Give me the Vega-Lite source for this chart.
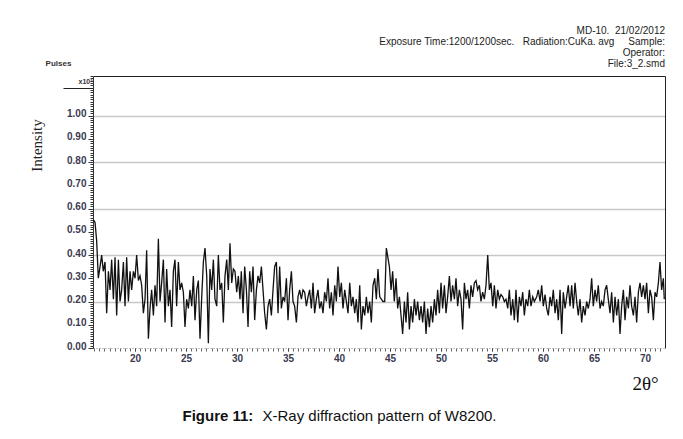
{
  "$schema": "https://vega.github.io/schema/vega-lite/v6.json",
  "width": 572,
  "height": 272,
  "autosize": {"type": "none"},
  "padding": {"left": 93, "top": 76, "right": 18, "bottom": 91},
  "background": "white",
  "config": {
    "view": {"stroke": null},
    "axis": {"labelFont": "Liberation Sans", "titleFont": "Liberation Sans", "labelFlush": false, "labelOverlap": false}
  },
  "title": {
    "text": ["MD-10.\u00a0\u00a021/02/2012", "Exposure Time:1200/1200sec.\u00a0\u00a0\u00a0Radiation:CuKa. avg\u00a0\u00a0\u00a0\u00a0\u00a0Sample:", "Operator:", "File:3_2.smd"],
    "anchor": "end",
    "frame": "group",
    "orient": "top",
    "offset": -10,
    "font": "Liberation Sans",
    "fontSize": 10,
    "fontWeight": "normal",
    "color": "#222222",
    "lineHeight": 11
  },
  "data": {"values": [
    {"theta":15.95,"intensity":0.55},{"theta":16.08,"intensity":0.54},{"theta":16.24,"intensity":0.46},{"theta":16.40,"intensity":0.30},{"theta":16.57,"intensity":0.35},{"theta":16.73,"intensity":0.40},{"theta":16.89,"intensity":0.33},{"theta":17.06,"intensity":0.37},{"theta":17.22,"intensity":0.15},{"theta":17.39,"intensity":0.33},{"theta":17.55,"intensity":0.25},{"theta":17.71,"intensity":0.38},{"theta":17.88,"intensity":0.21},{"theta":18.04,"intensity":0.39},{"theta":18.20,"intensity":0.14},{"theta":18.37,"intensity":0.38},{"theta":18.53,"intensity":0.20},{"theta":18.69,"intensity":0.25},{"theta":18.86,"intensity":0.37},{"theta":19.02,"intensity":0.18},{"theta":19.18,"intensity":0.39},{"theta":19.35,"intensity":0.20},{"theta":19.51,"intensity":0.33},{"theta":19.67,"intensity":0.25},{"theta":19.84,"intensity":0.33},{"theta":20.00,"intensity":0.30},{"theta":20.16,"intensity":0.40},{"theta":20.33,"intensity":0.29},{"theta":20.49,"intensity":0.31},{"theta":20.65,"intensity":0.27},{"theta":20.82,"intensity":0.15},{"theta":20.98,"intensity":0.21},{"theta":21.14,"intensity":0.42},{"theta":21.31,"intensity":0.04},{"theta":21.47,"intensity":0.17},{"theta":21.63,"intensity":0.25},{"theta":21.80,"intensity":0.14},{"theta":21.96,"intensity":0.27},{"theta":22.12,"intensity":0.18},{"theta":22.29,"intensity":0.47},{"theta":22.45,"intensity":0.20},{"theta":22.61,"intensity":0.28},{"theta":22.78,"intensity":0.38},{"theta":22.94,"intensity":0.11},{"theta":23.10,"intensity":0.34},{"theta":23.27,"intensity":0.18},{"theta":23.43,"intensity":0.25},{"theta":23.59,"intensity":0.09},{"theta":23.76,"intensity":0.33},{"theta":23.92,"intensity":0.38},{"theta":24.08,"intensity":0.18},{"theta":24.25,"intensity":0.37},{"theta":24.41,"intensity":0.25},{"theta":24.57,"intensity":0.28},{"theta":24.74,"intensity":0.24},{"theta":24.90,"intensity":0.09},{"theta":25.06,"intensity":0.21},{"theta":25.23,"intensity":0.17},{"theta":25.39,"intensity":0.25},{"theta":25.56,"intensity":0.18},{"theta":25.72,"intensity":0.31},{"theta":25.88,"intensity":0.12},{"theta":26.05,"intensity":0.25},{"theta":26.21,"intensity":0.29},{"theta":26.37,"intensity":0.04},{"theta":26.54,"intensity":0.22},{"theta":26.70,"intensity":0.37},{"theta":26.86,"intensity":0.43},{"theta":27.03,"intensity":0.31},{"theta":27.19,"intensity":0.02},{"theta":27.35,"intensity":0.34},{"theta":27.52,"intensity":0.25},{"theta":27.68,"intensity":0.38},{"theta":27.84,"intensity":0.21},{"theta":28.01,"intensity":0.18},{"theta":28.17,"intensity":0.40},{"theta":28.33,"intensity":0.25},{"theta":28.50,"intensity":0.28},{"theta":28.66,"intensity":0.11},{"theta":28.82,"intensity":0.31},{"theta":28.99,"intensity":0.38},{"theta":29.15,"intensity":0.25},{"theta":29.31,"intensity":0.45},{"theta":29.48,"intensity":0.28},{"theta":29.64,"intensity":0.34},{"theta":29.80,"intensity":0.33},{"theta":29.97,"intensity":0.24},{"theta":30.13,"intensity":0.31},{"theta":30.29,"intensity":0.21},
    {"theta":30.42,"intensity":0.33},{"theta":30.59,"intensity":0.15},{"theta":30.75,"intensity":0.35},{"theta":30.92,"intensity":0.25},{"theta":31.08,"intensity":0.09},{"theta":31.24,"intensity":0.33},{"theta":31.41,"intensity":0.24},{"theta":31.57,"intensity":0.35},{"theta":31.73,"intensity":0.12},{"theta":31.90,"intensity":0.25},{"theta":32.06,"intensity":0.31},{"theta":32.22,"intensity":0.28},{"theta":32.39,"intensity":0.35},{"theta":32.55,"intensity":0.25},{"theta":32.71,"intensity":0.15},{"theta":32.88,"intensity":0.08},{"theta":33.04,"intensity":0.18},{"theta":33.20,"intensity":0.21},{"theta":33.37,"intensity":0.14},{"theta":33.53,"intensity":0.25},{"theta":33.69,"intensity":0.35},{"theta":33.86,"intensity":0.37},{"theta":34.02,"intensity":0.15},{"theta":34.18,"intensity":0.35},{"theta":34.35,"intensity":0.17},{"theta":34.51,"intensity":0.22},{"theta":34.67,"intensity":0.20},{"theta":34.84,"intensity":0.30},{"theta":35.00,"intensity":0.12},{"theta":35.16,"intensity":0.25},{"theta":35.33,"intensity":0.33},{"theta":35.49,"intensity":0.20},{"theta":35.65,"intensity":0.18},{"theta":35.82,"intensity":0.11},{"theta":35.98,"intensity":0.22},{"theta":36.14,"intensity":0.25},{"theta":36.31,"intensity":0.21},{"theta":36.47,"intensity":0.25},{"theta":36.63,"intensity":0.24},{"theta":36.80,"intensity":0.18},{"theta":36.96,"intensity":0.22},{"theta":37.12,"intensity":0.25},{"theta":37.29,"intensity":0.17},{"theta":37.45,"intensity":0.28},{"theta":37.61,"intensity":0.15},{"theta":37.78,"intensity":0.21},{"theta":37.94,"intensity":0.25},{"theta":38.10,"intensity":0.17},{"theta":38.27,"intensity":0.20},{"theta":38.43,"intensity":0.15},{"theta":38.59,"intensity":0.24},{"theta":38.76,"intensity":0.20},{"theta":38.92,"intensity":0.30},{"theta":39.08,"intensity":0.17},{"theta":39.25,"intensity":0.24},{"theta":39.41,"intensity":0.14},{"theta":39.58,"intensity":0.27},{"theta":39.74,"intensity":0.20},{"theta":39.90,"intensity":0.35},{"theta":40.07,"intensity":0.22},{"theta":40.23,"intensity":0.28},{"theta":40.39,"intensity":0.17},{"theta":40.56,"intensity":0.25},{"theta":40.72,"intensity":0.20},{"theta":40.88,"intensity":0.15},{"theta":41.05,"intensity":0.28},{"theta":41.21,"intensity":0.18},{"theta":41.37,"intensity":0.22},{"theta":41.54,"intensity":0.15},{"theta":41.70,"intensity":0.21},{"theta":41.86,"intensity":0.11},{"theta":42.03,"intensity":0.27},{"theta":42.19,"intensity":0.08},{"theta":42.35,"intensity":0.18},{"theta":42.52,"intensity":0.14},{"theta":42.68,"intensity":0.22},{"theta":42.84,"intensity":0.15},{"theta":43.01,"intensity":0.20},{"theta":43.17,"intensity":0.11},{"theta":43.33,"intensity":0.27},{"theta":43.50,"intensity":0.30},{"theta":43.66,"intensity":0.21},{"theta":43.82,"intensity":0.34},{"theta":43.99,"intensity":0.22},{"theta":44.15,"intensity":0.21},{"theta":44.31,"intensity":0.20},{"theta":44.48,"intensity":0.20},{"theta":44.64,"intensity":0.43},
    {"theta":44.94,"intensity":0.35},{"theta":45.10,"intensity":0.25},{"theta":45.26,"intensity":0.33},{"theta":45.42,"intensity":0.20},{"theta":45.59,"intensity":0.30},{"theta":45.75,"intensity":0.17},{"theta":45.92,"intensity":0.22},{"theta":46.08,"intensity":0.14},{"theta":46.24,"intensity":0.06},{"theta":46.41,"intensity":0.20},{"theta":46.57,"intensity":0.11},{"theta":46.73,"intensity":0.24},{"theta":46.90,"intensity":0.08},{"theta":47.06,"intensity":0.18},{"theta":47.22,"intensity":0.11},{"theta":47.39,"intensity":0.21},{"theta":47.55,"intensity":0.14},{"theta":47.71,"intensity":0.20},{"theta":47.88,"intensity":0.12},{"theta":48.04,"intensity":0.18},{"theta":48.20,"intensity":0.11},{"theta":48.37,"intensity":0.20},{"theta":48.53,"intensity":0.06},{"theta":48.69,"intensity":0.17},{"theta":48.86,"intensity":0.09},{"theta":49.02,"intensity":0.18},{"theta":49.18,"intensity":0.11},{"theta":49.35,"intensity":0.21},{"theta":49.51,"intensity":0.14},{"theta":49.67,"intensity":0.25},{"theta":49.84,"intensity":0.15},{"theta":50.00,"intensity":0.28},{"theta":50.16,"intensity":0.17},{"theta":50.33,"intensity":0.27},{"theta":50.49,"intensity":0.15},{"theta":50.65,"intensity":0.22},{"theta":50.82,"intensity":0.31},{"theta":50.98,"intensity":0.20},{"theta":51.14,"intensity":0.27},{"theta":51.31,"intensity":0.21},{"theta":51.47,"intensity":0.30},{"theta":51.63,"intensity":0.18},{"theta":51.80,"intensity":0.25},{"theta":51.96,"intensity":0.21},{"theta":52.12,"intensity":0.08},{"theta":52.29,"intensity":0.28},{"theta":52.45,"intensity":0.21},{"theta":52.61,"intensity":0.25},{"theta":52.78,"intensity":0.17},{"theta":52.94,"intensity":0.27},{"theta":53.10,"intensity":0.22},{"theta":53.27,"intensity":0.28},{"theta":53.43,"intensity":0.29},{"theta":53.59,"intensity":0.25},{"theta":53.76,"intensity":0.27},{"theta":53.92,"intensity":0.20},{"theta":54.08,"intensity":0.24},{"theta":54.25,"intensity":0.21},{"theta":54.41,"intensity":0.27},{"theta":54.58,"intensity":0.40},{"theta":54.74,"intensity":0.25},{"theta":54.90,"intensity":0.28},{"theta":55.07,"intensity":0.18},{"theta":55.23,"intensity":0.27},{"theta":55.39,"intensity":0.17},{"theta":55.56,"intensity":0.25},{"theta":55.72,"intensity":0.21},{"theta":55.88,"intensity":0.23},{"theta":56.05,"intensity":0.22},{"theta":56.21,"intensity":0.20},{"theta":56.37,"intensity":0.21},{"theta":56.54,"intensity":0.17},{"theta":56.70,"intensity":0.25},{"theta":56.86,"intensity":0.14},{"theta":57.03,"intensity":0.21},{"theta":57.19,"intensity":0.12},{"theta":57.35,"intensity":0.25},{"theta":57.52,"intensity":0.11},{"theta":57.68,"intensity":0.22},{"theta":57.84,"intensity":0.18},{"theta":58.01,"intensity":0.24},{"theta":58.17,"intensity":0.14},{"theta":58.33,"intensity":0.21},{"theta":58.50,"intensity":0.18},{"theta":58.66,"intensity":0.25},{"theta":58.82,"intensity":0.18},{"theta":58.99,"intensity":0.22},{"theta":59.15,"intensity":0.20},
    {"theta":59.38,"intensity":0.22},{"theta":59.54,"intensity":0.25},{"theta":59.71,"intensity":0.20},{"theta":59.87,"intensity":0.27},{"theta":60.03,"intensity":0.18},{"theta":60.20,"intensity":0.23},{"theta":60.36,"intensity":0.17},{"theta":60.52,"intensity":0.14},{"theta":60.69,"intensity":0.22},{"theta":60.85,"intensity":0.18},{"theta":61.01,"intensity":0.25},{"theta":61.18,"intensity":0.15},{"theta":61.34,"intensity":0.21},{"theta":61.50,"intensity":0.12},{"theta":61.67,"intensity":0.25},{"theta":61.83,"intensity":0.06},{"theta":61.99,"intensity":0.24},{"theta":62.16,"intensity":0.17},{"theta":62.32,"intensity":0.22},{"theta":62.48,"intensity":0.27},{"theta":62.65,"intensity":0.18},{"theta":62.81,"intensity":0.27},{"theta":62.97,"intensity":0.17},{"theta":63.14,"intensity":0.28},{"theta":63.30,"intensity":0.20},{"theta":63.46,"intensity":0.14},{"theta":63.63,"intensity":0.21},{"theta":63.79,"intensity":0.11},{"theta":63.95,"intensity":0.18},{"theta":64.12,"intensity":0.14},{"theta":64.28,"intensity":0.20},{"theta":64.44,"intensity":0.17},{"theta":64.61,"intensity":0.21},{"theta":64.77,"intensity":0.30},{"theta":64.93,"intensity":0.18},{"theta":65.10,"intensity":0.25},{"theta":65.26,"intensity":0.20},{"theta":65.42,"intensity":0.27},{"theta":65.59,"intensity":0.17},{"theta":65.75,"intensity":0.20},{"theta":65.91,"intensity":0.18},{"theta":66.08,"intensity":0.25},{"theta":66.24,"intensity":0.27},{"theta":66.40,"intensity":0.21},{"theta":66.57,"intensity":0.15},{"theta":66.73,"intensity":0.24},{"theta":66.90,"intensity":0.11},{"theta":67.06,"intensity":0.22},{"theta":67.22,"intensity":0.14},{"theta":67.39,"intensity":0.21},{"theta":67.55,"intensity":0.06},{"theta":67.71,"intensity":0.18},{"theta":67.88,"intensity":0.25},{"theta":68.04,"intensity":0.12},{"theta":68.20,"intensity":0.22},{"theta":68.37,"intensity":0.17},{"theta":68.53,"intensity":0.27},{"theta":68.69,"intensity":0.18},{"theta":68.86,"intensity":0.14},{"theta":69.02,"intensity":0.22},{"theta":69.18,"intensity":0.11},{"theta":69.35,"intensity":0.24},{"theta":69.51,"intensity":0.28},{"theta":69.67,"intensity":0.22},{"theta":69.84,"intensity":0.27},{"theta":70.00,"intensity":0.21},{"theta":70.16,"intensity":0.28},{"theta":70.33,"intensity":0.15},{"theta":70.49,"intensity":0.25},{"theta":70.65,"intensity":0.22},{"theta":70.82,"intensity":0.12},{"theta":70.98,"intensity":0.24},{"theta":71.14,"intensity":0.22},{"theta":71.31,"intensity":0.28},{"theta":71.47,"intensity":0.37},{"theta":71.63,"intensity":0.25},{"theta":71.80,"intensity":0.30},{"theta":71.89,"intensity":0.21}
  ]},
  "resolve": {"axis": {"x": "independent", "y": "independent"}},
  "layer": [
    {
      "mark": {"type": "line", "color": "#ffffff", "strokeOpacity": 0},
      "encoding": {
        "x": {"field": "theta", "type": "quantitative", "scale": {"domain": [15.88, 71.96], "nice": false, "zero": false},
          "axis": null},
        "y": {"field": "intensity", "type": "quantitative", "scale": {"domain": [0, 1.17], "nice": false, "zero": false},
          "axis": {"orient": "right", "values": [0.2, 0.4, 0.6, 0.8, 1.0], "grid": true, "gridColor": "#c8c8c8", "gridWidth": 1.5,
            "ticks": false, "labels": false, "domain": true, "domainColor": "#222222", "domainWidth": 1, "title": null}}
      }
    },
    {
      "mark": {"type": "line", "color": "#ffffff", "strokeOpacity": 0},
      "encoding": {
        "x": {"field": "theta", "type": "quantitative", "scale": {"domain": [15.88, 71.96], "nice": false, "zero": false},
          "axis": {"orient": "bottom", "tickCount": 112, "tickSize": 3, "tickColor": "#666666", "tickWidth": 1,
            "domain": true, "domainDash": [1, 2], "domainColor": "#888888", "labels": false, "grid": false,
            "title": "Figure 11:", "titleFont": "Liberation Sans", "titleFontSize": 15, "titleFontWeight": "bold", "titleColor": "#111111",
            "titleX": 89, "titleY": 67, "titleAlign": "left", "titleBaseline": "middle"}},
        "y": {"field": "intensity", "type": "quantitative", "scale": {"domain": [0, 1.17], "nice": false, "zero": false},
          "axis": {"orient": "left", "tickCount": 117, "tickSize": 3, "tickColor": "#333333", "tickWidth": 1,
            "domain": false, "labels": false, "grid": false,
            "title": "Pulses", "titleFont": "Liberation Sans", "titleFontSize": 8, "titleFontWeight": "bold", "titleColor": "#333333",
            "titleAngle": 0, "titleX": -35, "titleY": -13, "titleAlign": "center", "titleBaseline": "middle"}}
      }
    },
    {
      "mark": {"type": "line", "color": "#ffffff", "strokeOpacity": 0},
      "encoding": {
        "x": {"field": "theta", "type": "quantitative", "scale": {"domain": [15.88, 71.96], "nice": false, "zero": false},
          "axis": {"orient": "top", "domain": true, "domainColor": "#222222", "domainWidth": 1, "ticks": false, "labels": false, "grid": false,
            "title": "X-Ray diffraction pattern of W8200.", "titleFont": "Liberation Sans", "titleFontSize": 15, "titleFontWeight": "normal", "titleColor": "#111111",
            "titleX": 169, "titleY": 339, "titleAlign": "left", "titleBaseline": "middle"}},
        "y": {"field": "intensity", "type": "quantitative", "scale": {"domain": [0, 1.17], "nice": false, "zero": false},
          "axis": {"orient": "left", "values": [1.12], "tickSize": 30, "tickColor": "#222222", "tickWidth": 1,
            "domain": false, "grid": false, "labelExpr": "'x10²'", "labelFontSize": 7, "labelFontWeight": "bold", "labelColor": "#333333",
            "labelAlign": "right", "labelBaseline": "bottom", "labelPadding": -29, "labelOffset": -3, "title": null}}
      }
    },
    {
      "mark": {"type": "line", "color": "#111111", "strokeWidth": 1.3},
      "encoding": {
        "x": {"field": "theta", "type": "quantitative", "scale": {"domain": [15.88, 71.96], "nice": false, "zero": false},
          "axis": {"orient": "bottom", "values": [20, 25, 30, 35, 40, 45, 50, 55, 60, 65, 70], "tickSize": 3, "tickColor": "#444444",
            "domain": false, "grid": false, "labelFontSize": 10, "labelFontWeight": "bold", "labelColor": "#3a3a50", "labelPadding": 2,
            "title": "2θ°", "titleFont": "Liberation Serif", "titleFontSize": 19, "titleFontWeight": "normal", "titleColor": "#111111",
            "titleX": 552, "titleY": 35, "titleAlign": "center", "titleBaseline": "middle"}},
        "y": {"field": "intensity", "type": "quantitative", "scale": {"domain": [0, 1.17], "nice": false, "zero": false},
          "axis": {"orient": "left", "values": [0, 0.1, 0.2, 0.3, 0.4, 0.5, 0.6, 0.7, 0.8, 0.9, 1.0], "format": ".2f",
            "tickSize": 5, "tickColor": "#333333", "domain": true, "domainColor": "#333333", "domainWidth": 1, "grid": false,
            "labelFontSize": 10, "labelFontWeight": "bold", "labelColor": "#3a3a50", "labelPadding": 2, "labelOffset": -2,
            "title": "Intensity", "titleFont": "Liberation Serif", "titleFontSize": 15, "titleFontWeight": "normal", "titleColor": "#222222",
            "titleAngle": 270, "titleX": -57, "titleY": 69, "titleAlign": "center", "titleBaseline": "middle"}}
      }
    }
  ]
}
